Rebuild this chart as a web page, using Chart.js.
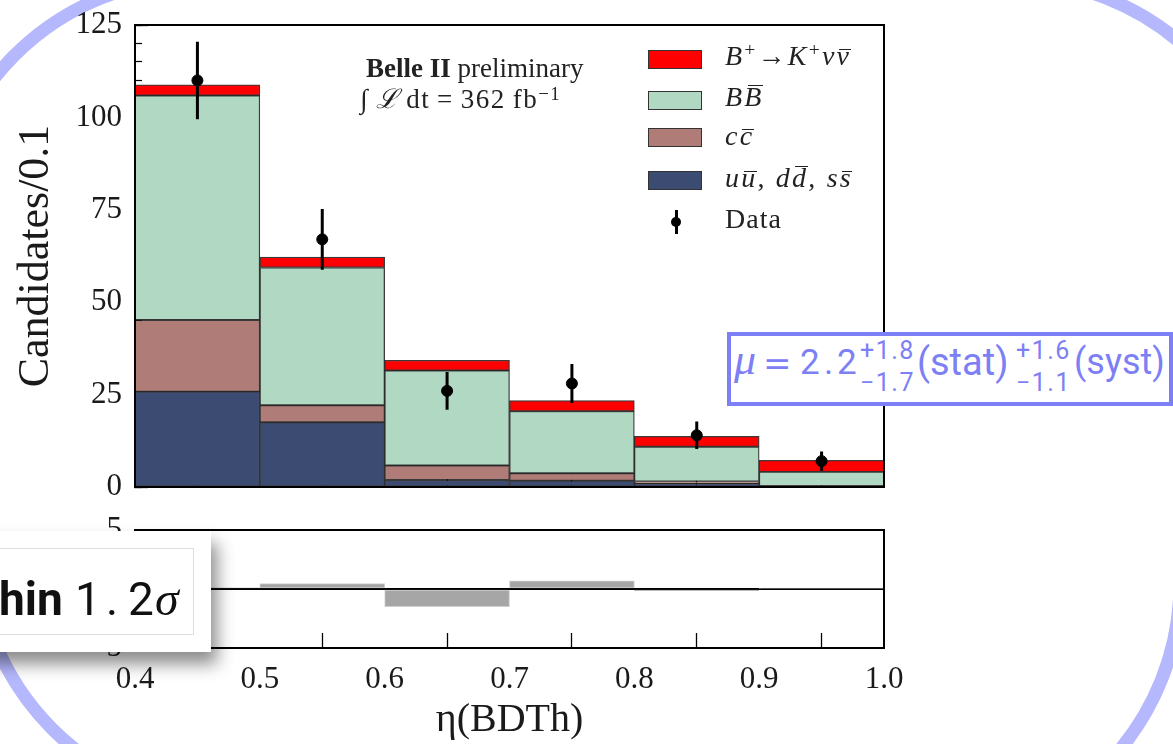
<!DOCTYPE html>
<html><head><meta charset="utf-8">
<script src="https://cdn.jsdelivr.net/npm/chart.js"></script>
<style>
*{box-sizing:border-box}
html,body{margin:0;padding:0;background:#fff;}
#page{position:relative;width:1173px;height:744px;overflow:hidden;background:#fff;}
#ring{position:absolute;left:0;top:0;}
canvas{position:absolute;left:0;}
#cA{top:0}
#cB{top:500px}
.t{position:absolute;white-space:nowrap;line-height:0;}
.serif{font-family:'Liberation Serif',serif;}
.sans{font-family:Roboto,sans-serif;}
.patch{position:absolute;left:648px;width:54px;height:19px;border:1px solid #333;}
.leg{position:absolute;left:725px;white-space:nowrap;line-height:0;font-family:'Liberation Serif',serif;font-size:28px;letter-spacing:2.2px;color:#222;}
.up{position:relative;top:-0.45em;font-size:0.7em;line-height:0;}
.ov{position:relative;display:inline-block;line-height:0;}
.ov::after{content:'';position:absolute;left:18%;right:4%;border-top:1.6px solid currentColor;}
.ov.lc::after{top:-7.5px}
.ov.uc::after{top:-12px}
#mu{position:absolute;left:727px;top:332px;width:446px;height:74px;border:4px solid #7c80f4;background:#fff;}
.mu{color:#7c80f4}
.scr{font-size:25px;letter-spacing:1.5px;}
#card{position:absolute;left:-20px;top:531px;width:231px;height:121px;background:#fff;box-shadow:6px 12px 16px rgba(0,0,0,0.45);}
#cardin{position:absolute;left:-20px;top:548px;width:214px;height:87px;border:1px solid #dedede;}
</style></head>
<body>
<div id="page">
  <svg id="ring" width="1173" height="744" viewBox="0 0 1173 744">
    <path d="M -62 240 A 261 261 0 0 1 199 -21 L 1011 -20 A 260 260 0 0 1 1271 240 L 1180 583.5 A 260 260 0 0 1 920 843.5 L 236 805 A 260 260 0 0 1 -24 545 Z"
          fill="none" stroke="#b5b8fd" stroke-width="13"/>
  </svg>
  <canvas id="cA" width="1173" height="520"></canvas>
  <canvas id="cB" width="1173" height="244"></canvas>

  <div class="t serif" style="left:366px;top:68px;font-size:27px;color:#222;"><b>Belle II</b> preliminary</div>
  <div class="t serif" style="left:360px;top:99px;font-size:27px;letter-spacing:1.5px;color:#222;">&int;&thinsp;<i>&#x2112;</i>&thinsp;dt&thinsp;=&thinsp;362&thinsp;fb<span class="up">&minus;1</span></div>

  <div class="patch" style="top:50px;background:#ff0000;"></div>
  <div class="patch" style="top:91px;background:#b1d8c3;"></div>
  <div class="patch" style="top:128px;background:#b07c77;"></div>
  <div class="patch" style="top:171px;background:#3b4b72;"></div>
  <div style="position:absolute;left:674.5px;top:210px;width:3px;height:24px;background:#000;"></div>
  <div style="position:absolute;left:671px;top:217px;width:10px;height:10px;border-radius:50%;background:#000;"></div>

  <div class="leg" style="top:56px;"><i>B</i><span class="up">+</span>&rarr;<i>K</i><span class="up">+</span><i>&nu;</i><i class="ov lc">&nu;</i></div>
  <div class="leg" style="top:97px;"><i>B</i><i class="ov uc">B</i></div>
  <div class="leg" style="top:136px;"><i>c</i><i class="ov lc">c</i></div>
  <div class="leg" style="top:178px;"><i>u</i><i class="ov lc">u</i>, <i>d</i><i class="ov uc">d</i>, <i>s</i><i class="ov lc">s</i></div>
  <div class="leg" style="top:219px;letter-spacing:1px;">Data</div>

  <div id="mu"></div>
  <div class="t serif mu" style="left:734px;top:360px;font-size:44px;font-style:italic;">&mu;</div>
  <div class="t mu" style="left:763px;top:363px;font-size:34px;font-family:'DejaVu Sans';">=</div>
  <div class="t sans mu" style="left:800px;top:363px;font-size:35px;">2</div>
  <div class="t sans mu" style="left:824px;top:363px;font-size:35px;">.</div>
  <div class="t sans mu" style="left:837px;top:363px;font-size:35px;">2</div>
  <div class="t sans mu scr" style="left:860px;top:351px;">+1.8</div>
  <div class="t sans mu scr" style="left:860px;top:383px;">&minus;1.7</div>
  <div class="t sans mu" style="left:917px;top:362px;font-size:38px;">(stat)</div>
  <div class="t sans mu scr" style="left:1016px;top:351px;">+1.6</div>
  <div class="t sans mu scr" style="left:1016px;top:383px;">&minus;1.1</div>
  <div class="t sans mu" style="left:1074px;top:362px;font-size:36px;">(syst)</div>

  <div id="card"></div>
  <div id="cardin"></div>
  <div class="t sans" style="left:-1px;top:599px;font-size:46px;font-weight:bold;color:#111;">hin</div>
  <div class="t sans" style="left:75px;top:599px;font-size:46px;color:#111;">1</div>
  <div class="t sans" style="left:106px;top:599px;font-size:46px;color:#111;">.</div>
  <div class="t sans" style="left:128px;top:599px;font-size:46px;color:#111;">2</div>
  <div class="t serif" style="left:155px;top:599px;font-size:48px;font-style:italic;color:#111;">&sigma;</div>
</div>
<script>
// ---- data ----
const binCenters = [0.45, 0.55, 0.65, 0.75, 0.85, 0.95];
const qqbarVals  = [25.8, 17.5, 1.9, 1.7, 1.0, 0.2];   // u ubar, d dbar, s sbar
const ccbarVals  = [19.4, 4.6, 3.9, 2.0, 0.5, 0.1];    // c cbar
const bbbarVals  = [60.7, 37.3, 25.7, 16.8, 9.4, 3.8]; // B Bbar
const signalVals = [2.9, 2.8, 2.8, 2.9, 2.8, 3.1];     // B+ -> K+ nu nubar
const dataVals   = [110, 67, 26, 28, 14, 7];
const dataErrs   = [10.5, 8.2, 5.1, 5.3, 3.7, 2.6];
const pullVals   = [0.1, 0.45, -1.5, 0.7, -0.15, 0.05];
const xTicks     = [0.4, 0.5, 0.6, 0.7, 0.8, 0.9, 1.0];
const yMainTicks = [0, 25, 50, 75, 100, 125];
const yMinorTicks= [0,5,10,15,20,25,30,35,40,45,50,55,60,65,70,75,80,85,90,95,100,105,110,115,120,125];
const pullTicks  = [-5, 0, 5];

const toPts = vals => binCenters.map((x, i) => ({x, y: vals[i]}));
const errSegments = [];
binCenters.forEach((x, i) => {
  errSegments.push({x, y: dataVals[i] - dataErrs[i]}, {x, y: dataVals[i] + dataErrs[i]}, {x, y: null});
});

const frame = {
  id: 'frame',
  afterDraw(chart) {
    const {ctx, chartArea: a} = chart;
    ctx.save(); ctx.strokeStyle = '#000'; ctx.lineWidth = 2;
    ctx.strokeRect(a.left, a.top, a.right - a.left, a.bottom - a.top);
    ctx.restore();
  }
};
const noPad = s => { s.paddingTop = 0; s.paddingBottom = 0; s.paddingLeft = 0; s.paddingRight = 0; };
const tickFont = {family: 'Liberation Serif', size: 31};
const setTicks = arr => s => { s.ticks = arr.map(v => ({value: v})); };
const edge = 'rgba(25,25,25,0.85)';
const barBase = {borderColor: edge, borderWidth: 1.3, borderSkipped: false, barPercentage: 1, categoryPercentage: 1};

new Chart(document.getElementById('cA'), {
  type: 'bar',
  data: { datasets: [
    {type: 'scatter', label: 'Data', data: toPts(dataVals), yAxisID: 'yd', pointRadius: 5.5,
     pointBackgroundColor: '#000', pointBorderColor: '#000', showLine: false},
    {type: 'line', label: 'Data error', data: errSegments, yAxisID: 'yd', borderColor: '#000',
     borderWidth: 3, pointRadius: 0, spanGaps: false, fill: false},
    Object.assign({label: 'u\u016b, d d\u0304, s s\u0304', data: toPts(qqbarVals), backgroundColor: '#3b4b72'}, barBase),
    Object.assign({label: 'c c\u0304', data: toPts(ccbarVals), backgroundColor: '#b07c77'}, barBase),
    Object.assign({label: 'B B\u0305', data: toPts(bbbarVals), backgroundColor: '#b1d8c3'}, barBase),
    Object.assign({label: 'B\u207a\u2192K\u207a\u03bd\u03bd\u0304', data: toPts(signalVals), backgroundColor: '#ff0000'}, barBase)
  ]},
  options: {
    responsive: false, animation: false, devicePixelRatio: 1,
    layout: {padding: {left: 0, top: 25, right: 289, bottom: 33}},
    plugins: {legend: {display: false}, tooltip: {enabled: false}},
    scales: {
      x: {type: 'linear', min: 0.4, max: 1.0, stacked: true, position: 'bottom', offset: false,
          afterBuildTicks: setTicks(xTicks),
          ticks: {display: false},
          grid: {drawOnChartArea: false, tickLength: -13, tickColor: '#000', tickWidth: 1.3},
          border: {display: true, color: '#000', width: 2},
          afterFit(s) { s.height = 0; noPad(s); }},
      y: {type: 'linear', min: 0, max: 125, stacked: true, position: 'left', weight: 1,
          afterBuildTicks: setTicks(yMainTicks),
          ticks: {font: tickFont, color: '#1a1a1a', padding: 26},
          grid: {drawOnChartArea: false, tickLength: -13, tickColor: '#000', tickWidth: 1.3},
          border: {display: true, color: '#000', width: 2},
          title: {display: true, text: 'Candidates/0.1', color: '#1a1a1a',
                  font: {family: 'Liberation Serif', size: 44}, padding: {top: 10, bottom: 0}},
          afterFit(s) { s.width = 135; noPad(s); }},
      yMinor: {type: 'linear', min: 0, max: 125, position: 'left', weight: 0,
          afterBuildTicks: setTicks(yMinorTicks),
          ticks: {display: false},
          grid: {drawOnChartArea: false, tickLength: -7, tickColor: '#000', tickWidth: 1.2},
          border: {display: false},
          afterFit(s) { s.width = 0; noPad(s); }},
      yd: {type: 'linear', min: 0, max: 125, display: false}
    }
  },
  plugins: [frame]
});

new Chart(document.getElementById('cB'), {
  type: 'bar',
  data: { datasets: [
    {label: 'Pull', data: toPts(pullVals), backgroundColor: '#a6a6a6', borderColor: '#cfcfcf',
     borderWidth: 1, borderSkipped: false, barPercentage: 1, categoryPercentage: 1}
  ]},
  options: {
    responsive: false, animation: false, devicePixelRatio: 1,
    layout: {padding: {left: 0, top: 30, right: 289, bottom: 0}},
    plugins: {legend: {display: false}, tooltip: {enabled: false}},
    scales: {
      x: {type: 'linear', min: 0.4, max: 1.0, position: 'bottom', offset: false,
          afterBuildTicks: setTicks(xTicks),
          ticks: {font: tickFont, color: '#1a1a1a', padding: 28, autoSkip: false, maxRotation: 0,
                  callback: v => v.toFixed(1)},
          grid: {drawOnChartArea: false, tickLength: -15, tickColor: '#000', tickWidth: 1.3},
          border: {display: true, color: '#000', width: 2},
          title: {display: true, text: '\u03b7(BDTh)', color: '#1a1a1a',
                  font: {family: 'Liberation Serif', size: 40}, padding: {top: 0, bottom: 0}},
          afterFit(s) { s.height = 96; noPad(s); }},
      y: {type: 'linear', min: -5, max: 5, position: 'left', z: 1,
          afterBuildTicks: setTicks(pullTicks),
          ticks: {font: tickFont, color: '#1a1a1a', padding: 26,
                  callback: v => (v < 0 ? '\u2212' + Math.abs(v) : String(v))},
          grid: {drawOnChartArea: true, tickLength: -13, tickColor: '#000', tickWidth: 1.3,
                 color: c => (c.tick && c.tick.value === 0 ? '#000' : 'rgba(0,0,0,0)'),
                 lineWidth: c => (c.tick && c.tick.value === 0 ? 2 : 0)},
          border: {display: true, color: '#000', width: 2},
          afterFit(s) { s.width = 135; noPad(s); }}
    }
  },
  plugins: [frame]
});
</script>
</body></html>
